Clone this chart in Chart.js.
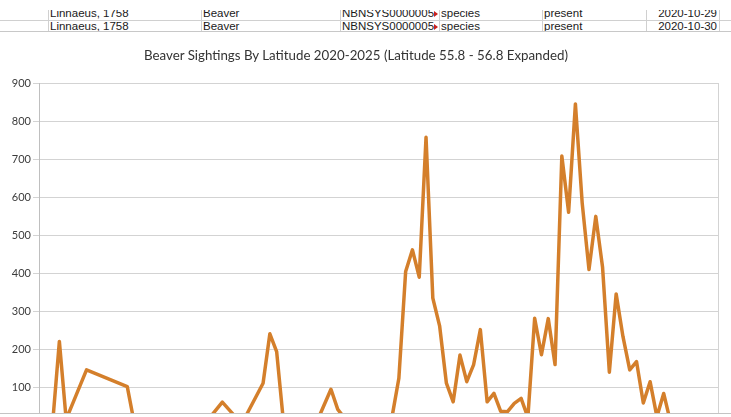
<!DOCTYPE html>
<html>
<head>
<meta charset="utf-8">
<title>Beaver Sightings By Latitude</title>
<script src="https://cdn.jsdelivr.net/npm/chart.js@4.4.1/dist/chart.umd.min.js"></script>
<style>
  html, body { margin: 0; padding: 0; background: #fff; }
  body { width: 731px; height: 417px; position: relative; overflow: hidden; font-family: "Liberation Sans", Arial, sans-serif; }
  #sheet { position: absolute; left: 0; top: 10px; width: 731px; height: 21px; overflow: hidden; }
  .hline { position: absolute; left: 0; width: 731px; height: 1px; background: #d0d0d0; }
  .vline { position: absolute; top: 0; width: 1px; height: 21px; background: #d0d0d0; }
  .cell { position: absolute; font-size: 11.5px; line-height: 13px; color: #1a1a1a; white-space: nowrap; overflow: hidden; }
  .arrow { position: absolute; width: 0; height: 0; border-left: 4px solid #c9211e; border-top: 3px solid transparent; border-bottom: 3px solid transparent; }
  #chartBox { position: absolute; left: 0; top: 31px; width: 731px; height: 383px; box-sizing: border-box;
              border-top: 1px solid #c8c8c8; border-bottom: 1px solid #c4c4c4; overflow: hidden; background: #fff; }
  #chartTitle { position: absolute; left: 0; top: 47px; width: 712px; text-align: center; z-index: 2;
                font-family: Lato, "Noto Sans", sans-serif; font-size: 13.3px; line-height: 16px; color: #333; }
</style>
</head>
<body>

<div id="sheet">
  <div class="hline" style="top:10px"></div>
  <div class="vline" style="left:48px"></div>
  <div class="vline" style="left:201px"></div>
  <div class="vline" style="left:340px"></div>
  <div class="vline" style="left:439px"></div>
  <div class="vline" style="left:542px"></div>
  <div class="vline" style="left:646px"></div>
  <div class="vline" style="left:719px"></div>
</div>

<div id="chartBox">
  <canvas id="lineChartCanvas" width="731" height="420"></canvas>
</div>
<div id="chartTitle">Beaver Sightings By Latitude 2020-2025 (Latitude 55.8 - 56.8 Expanded)</div>

<script>
// 表格里露出来的两行
const sheetRows = [
    ['Linnaeus, 1758', 'Beaver', 'NBNSYS0000005', 'species', 'present', '2020-10-29'],
    ['Linnaeus, 1758', 'Beaver', 'NBNSYS0000005', 'species', 'present', '2020-10-30']
];

// 纬度 55.80 - 56.80
const latitudes = [
    '55.80', '55.81', '55.82', '55.83', '55.84', '55.85', '55.86', '55.87', '55.88', '55.89',
    '55.90', '55.91', '55.92', '55.93', '55.94', '55.95', '55.96', '55.97', '55.98', '55.99',
    '56.00', '56.01', '56.02', '56.03', '56.04', '56.05', '56.06', '56.07', '56.08', '56.09',
    '56.10', '56.11', '56.12', '56.13', '56.14', '56.15', '56.16', '56.17', '56.18', '56.19',
    '56.20', '56.21', '56.22', '56.23', '56.24', '56.25', '56.26', '56.27', '56.28', '56.29',
    '56.30', '56.31', '56.32', '56.33', '56.34', '56.35', '56.36', '56.37', '56.38', '56.39',
    '56.40', '56.41', '56.42', '56.43', '56.44', '56.45', '56.46', '56.47', '56.48', '56.49',
    '56.50', '56.51', '56.52', '56.53', '56.54', '56.55', '56.56', '56.57', '56.58', '56.59',
    '56.60', '56.61', '56.62', '56.63', '56.64', '56.65', '56.66', '56.67', '56.68', '56.69',
    '56.70', '56.71', '56.72', '56.73', '56.74', '56.75', '56.76', '56.77', '56.78', '56.79',
    '56.80'
];

// 目击次数 (null = 无数据, 折线直接连过去)
const sightings = [
    4, 9, 3, 220, 15, null, null, 145, null, null,
    null, null, null, 101, 8, 5, 11, 2, 14, 7,
    3, 16, 9, 4, 12, 16, null, 60, null, 20,
    8, null, null, 110, 240, 193, 9, 4, 13, 6,
    2, 12, null, 94, 41, 18, 7, 3, 15, 5,
    10, 2, 22, 123, 404, 461, 389, 757, 334, 261,
    110, 61, 184, 114, 158, 251, 61, 83, 36, 35,
    57, 70, 20, 281, 185, 280, 159, 708, 560, 845,
    584, 409, 549, 415, 139, 345, 233, 145, 167, 58,
    114, 22, 83, 8, 12, 3, 6, 14, 2, 9,
    5
];

const yTicks = { min: 0, max: 900, step: 100 };

function drawSheet() {
    const sheet = document.getElementById('sheet');
    const colLeft = [50, 203, 342, 441, 544];
    const colWidth = [150, 136, 92, 100, 100];
    const baseTop = [-3, 10];
    sheetRows.forEach((row, r) => {
        for (let c = 0; c < 5; c++) {
            const el = document.createElement('div');
            el.className = 'cell';
            el.style.left = colLeft[c] + 'px';
            el.style.top = baseTop[r] + 'px';
            el.style.width = colWidth[c] + 'px';
            el.textContent = row[c];
            sheet.appendChild(el);
        }
        const date = document.createElement('div');
        date.className = 'cell';
        date.style.left = '600px';
        date.style.width = '117px';
        date.style.textAlign = 'right';
        date.style.top = baseTop[r] + 'px';
        date.textContent = row[5];
        sheet.appendChild(date);

        const arrow = document.createElement('div');
        arrow.className = 'arrow';
        arrow.style.left = '434px';
        arrow.style.top = (baseTop[r] + 3.5) + 'px';
        sheet.appendChild(arrow);
    });
}

function drawLineChart() {
    const ctx = document.getElementById('lineChartCanvas').getContext('2d');
    const lastIndex = latitudes.length - 1;

    new Chart(ctx, {
        type: 'line',
        data: {
            labels: latitudes,
            datasets: [{
                label: 'Beaver sightings',
                data: sightings,
                borderColor: '#d47f2b',
                backgroundColor: '#d47f2b',
                borderWidth: 3.5,
                borderJoinStyle: 'round',
                borderCapStyle: 'round',
                pointRadius: 0,
                tension: 0,
                spanGaps: true,
                fill: false
            }]
        },
        options: {
            responsive: false,
            animation: false,
            layout: {
                padding: { top: 51, right: 13, bottom: 0, left: 0 }
            },
            plugins: {
                legend: { display: false },
                tooltip: { enabled: false },
                title: { display: false }
            },
            scales: {
                x: {
                    ticks: { display: false },
                    grid: {
                        drawTicks: false,
                        color: c => c.index === lastIndex ? '#d3d3d3' : 'rgba(0,0,0,0)'
                    },
                    border: { display: true, color: '#bfbfbf' },
                    afterFit: s => { s.height = 27; }
                },
                y: {
                    min: yTicks.min,
                    max: yTicks.max,
                    ticks: {
                        stepSize: yTicks.step,
                        padding: 2,
                        color: '#3c3c3c',
                        font: { family: 'Lato', size: 11 }
                    },
                    grid: { color: '#d3d3d3', tickLength: 6 },
                    border: { color: '#bfbfbf' },
                    afterFit: s => { s.width = 39; }
                }
            }
        }
    });
}

drawSheet();
drawLineChart();
</script>
</body>
</html>
